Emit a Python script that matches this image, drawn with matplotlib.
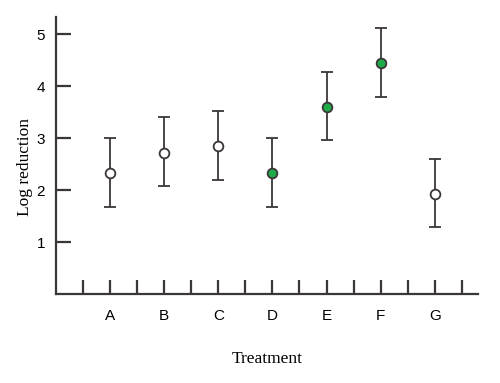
import matplotlib.pyplot as plt

# treatments and log reduction values
treatments = ["A", "B", "C", "D", "E", "F", "G"]
means = [2.32, 2.72, 2.84, 2.32, 3.60, 4.44, 1.92]
lower = [1.68, 2.08, 2.20, 1.68, 2.96, 3.80, 1.28]
upper = [3.00, 3.40, 3.52, 3.00, 4.28, 5.12, 2.60]
highlight = [False, False, False, True, True, True, False]

dark = "#3b3637"
green = "#1faa48"

fig = plt.figure(figsize=(5, 3.83), dpi=100)
ax = fig.add_axes([0.112, 0.2324, 0.844, 0.7232])

xs = list(range(1, len(treatments) + 1))
for x, m, lo, hi, h in zip(xs, means, lower, upper, highlight):
    ax.errorbar(x, m, yerr=[[m - lo], [hi - m]], fmt="o", color=dark,
                ecolor=dark, elinewidth=1.3, capsize=4.2, capthick=1.3,
                markersize=7, markeredgewidth=1.3, markeredgecolor=dark,
                markerfacecolor=green if h else "white", zorder=3)

ax.set_xlim(0, 7.8)
ax.set_ylim(0, 5.33)
ax.set_yticks([1, 2, 3, 4, 5])
ax.set_xticks(xs)
ax.set_xticklabels(treatments)
ax.set_xticks([x + 0.5 for x in range(0, 8)], minor=True)

for s in ["top", "right"]:
    ax.spines[s].set_visible(False)
for s in ["left", "bottom"]:
    ax.spines[s].set_color(dark)
    ax.spines[s].set_linewidth(1.6)

ax.tick_params(axis="y", direction="in", length=11, width=1.6, color=dark,
               labelsize=11, pad=8, labelfontfamily="Liberation Sans")
ax.tick_params(axis="x", which="both", direction="in", length=10, width=1.6,
               color=dark, labelsize=11, pad=11, labelfontfamily="Liberation Sans")

ax.set_xlabel("Treatment", fontsize=12.5, family="Liberation Serif", labelpad=20)
ax.set_ylabel("Log reduction", fontsize=12.5, family="Liberation Serif")
ax.yaxis.set_label_coords(-0.055, 0.46)

fig.savefig("out.png", dpi=100)
